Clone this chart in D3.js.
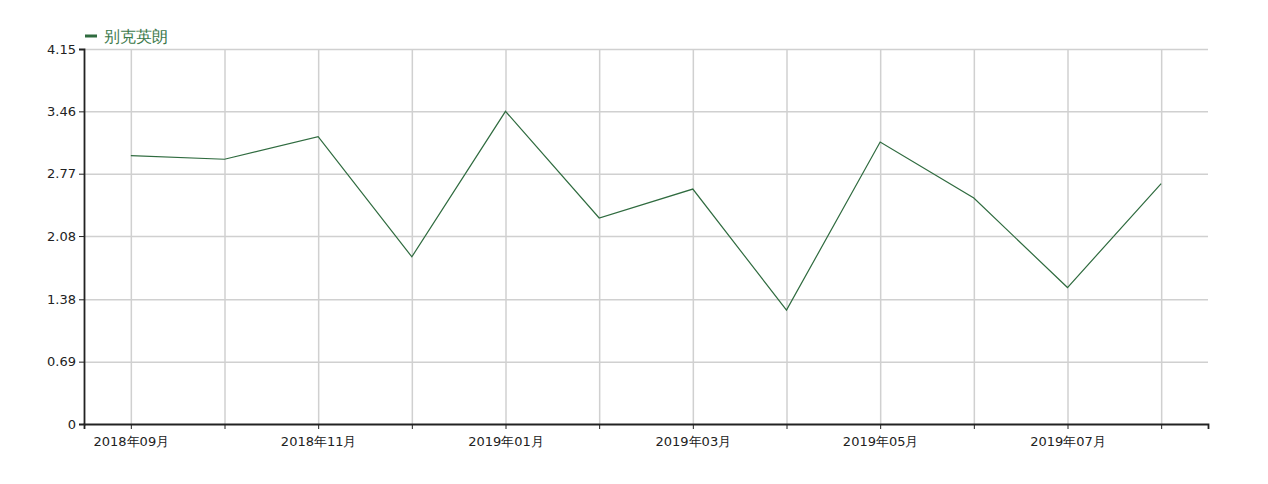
<!DOCTYPE html>
<html>
<head>
<meta charset="utf-8">
<script src="https://cdn.jsdelivr.net/npm/d3@7"></script>
<style>
  body { margin: 0; background: #fff; }
  svg { font-family: "DejaVu Sans", Verdana, sans-serif; }
  .grid line { stroke: #d0d0d0; stroke-width: 1.5; }
  .grid .domain { display: none; }
  .axis text { font-size: 13px; fill: #222; font-family: "DejaVu Sans", Verdana, sans-serif; }
  .axis line, .axis path { stroke: #222; }
</style>
</head>
<body>
<svg id="chart" width="1268" height="484"></svg>
<script>
// data
var months = ["2018年09月", "2018年10月", "2018年11月", "2018年12月", "2019年01月", "2019年02月",
  "2019年03月", "2019年04月", "2019年05月", "2019年06月", "2019年07月", "2019年08月"];
var values = [2.97, 2.93, 3.18, 1.85, 3.46, 2.28, 2.60, 1.26, 3.12, 2.50, 1.51, 2.66];
var seriesName = "别克英朗";
var yMax = 4.15;
var yTicks = [0, 0.69, 1.38, 2.08, 2.77, 3.46, 4.15];

var svg = d3.select("#chart"),
  margin = { top: 49, right: 60, bottom: 60, left: 84 },
  width = +svg.attr("width") - margin.left - margin.right,
  height = +svg.attr("height") - margin.top - margin.bottom;

var color = "#2f6b3f";

var x = d3.scalePoint().domain(months).range([0, width]).padding(0.5);
var y = d3.scaleLinear().domain([0, yMax]).range([height, 0]);

var g = svg.append("g")
  .attr("transform", "translate(" + margin.left + "," + margin.top + ")");

// grid
g.append("g")
  .attr("class", "grid")
  .call(d3.axisLeft(y).tickValues(yTicks.slice(1)).tickSize(-width).tickFormat(""));

g.append("g")
  .attr("class", "grid")
  .attr("transform", "translate(0," + height + ")")
  .call(d3.axisBottom(x).tickSize(-height).tickFormat(""));

// axes
g.append("g")
  .attr("class", "axis")
  .attr("transform", "translate(0," + height + ")")
  .call(d3.axisBottom(x).tickSizeOuter(0).tickSize(5).tickPadding(8)
    .tickFormat(function (d, i) { return i % 2 === 0 ? d : ""; }));

g.append("g")
  .attr("class", "axis")
  .call(d3.axisLeft(y).tickValues(yTicks).tickSizeOuter(0).tickSize(5).tickPadding(3)
    .tickFormat(function (d) { return d === 0 ? "0" : d3.format(".2f")(d); }));

g.selectAll(".axis .domain").attr("stroke-width", 1.8);

// line
var line = d3.line()
  .x(function (d, i) { return x(months[i]); })
  .y(function (d) { return y(d); });

g.append("path")
  .datum(values)
  .attr("fill", "none")
  .attr("stroke", color)
  .attr("stroke-width", 1.2)
  .attr("d", line);

// legend
var legend = svg.append("g").attr("transform", "translate(85,36)");
legend.append("line")
  .attr("x1", 0).attr("x2", 12)
  .attr("stroke", color).attr("stroke-width", 3);
legend.append("text")
  .attr("x", 19).attr("dy", "0.36em")
  .attr("fill", "#3d7a4c")
  .style("font-size", "16px")
  .text(seriesName);
</script>
</body>
</html>
